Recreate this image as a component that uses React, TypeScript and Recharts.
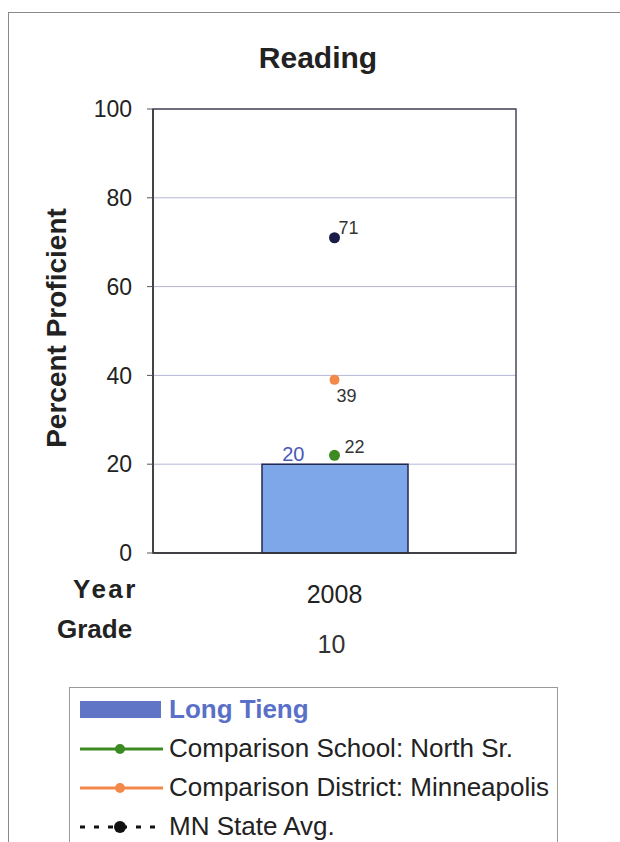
import React from 'react';
import {
  ComposedChart,
  Bar,
  Line,
  XAxis,
  YAxis,
  CartesianGrid,
  Legend,
  LabelList,
  ReferenceArea,
} from 'recharts';

const years = ['2008'];
const grades = ['10'];
const longTieng = [20];
const northSr = [22];
const minneapolis = [39];
const mnState = [71];
const yTicks = [0, 20, 40, 60, 80, 100];

const seriesNames = {
  longTieng: 'Long Tieng',
  northSr: 'Comparison School: North Sr.',
  minneapolis: 'Comparison District: Minneapolis',
  mnState: 'MN State Avg.',
};
const legendOrder = ['longTieng', 'northSr', 'minneapolis', 'mnState'];

const data = years.map((y, i) => ({
  year: y,
  grade: grades[i],
  longTieng: longTieng[i],
  northSr: northSr[i],
  minneapolis: minneapolis[i],
  mnState: mnState[i],
}));

const FONT = '"Liberation Sans", Arial, Helvetica, sans-serif';

const BAR_FILL = '#7ea7ea';
const BAR_STROKE = '#23284f';
const GREEN = '#3b8a22';
const ORANGE = '#f2894b';
const NAVY = '#1a1c48';

const XTick = (props: any) => {
  const { x, y, payload, index } = props;
  return (
    <g>
      <text x={x} y={y + 50} textAnchor="middle" fontFamily={FONT} fontSize={25} fill="#222">
        {payload.value}
      </text>
      <text x={x - 3} y={y + 100} textAnchor="middle" fontFamily={FONT} fontSize={25} fill="#333">
        {grades[index] ?? grades[0]}
      </text>
    </g>
  );
};

const XLabel = (props: any) => {
  const vb = props.viewBox || {};
  const x0 = vb.x ?? 153;
  const y0 = vb.y ?? 553;
  return (
    <g>
      <text x={x0 - 80} y={y0 + 45} fontFamily={FONT} fontSize={26} fontWeight="bold" letterSpacing={2.5} fill="#222">
        Year
      </text>
      <text x={x0 - 96} y={y0 + 85} fontFamily={FONT} fontSize={26} fontWeight="bold" fill="#222">
        Grade
      </text>
    </g>
  );
};

const YLabel = (props: any) => {
  const vb = props.viewBox || {};
  const cy = (vb.y ?? 109) + (vb.height ?? 444) / 2 - 3;
  const cx = 56;
  return (
    <text
      x={cx}
      y={cy}
      transform={`rotate(-90 ${cx} ${cy})`}
      textAnchor="middle"
      dominantBaseline="central"
      fontFamily={FONT}
      fontSize={28}
      fontWeight="bold"
      fill="#222"
    >
      Percent Proficient
    </text>
  );
};

const makePointLabel = (dx: number, dy: number) => (props: any) => {
  const { x, y, value } = props;
  return (
    <text x={x + dx} y={y + dy} fontFamily={FONT} fontSize={18} fill="#333" textAnchor="start">
      {value}
    </text>
  );
};

const BarValueLabel = (props: any) => {
  const { x, y, width, value } = props;
  return (
    <text x={x + width * 0.215} y={y - 3} textAnchor="middle" fontFamily={FONT} fontSize={20} fill="#4a58b8">
      {value}
    </text>
  );
};

const LegendIcon = ({ dataKey }: { dataKey: string }) => {
  if (dataKey === 'longTieng') {
    return (
      <svg width={99} height={39} style={{ display: 'block', flex: 'none' }}>
        <rect x={10} y={11} width={81} height={17} fill="#6075c6" />
      </svg>
    );
  }
  if (dataKey === 'mnState') {
    return (
      <svg width={99} height={39} style={{ display: 'block', flex: 'none' }}>
        <line x1={10} y1={20} x2={93} y2={20} stroke="#111" strokeWidth={3} strokeDasharray="5 9" />
        <circle cx={50} cy={20} r={6} fill="#111" />
      </svg>
    );
  }
  const color = dataKey === 'northSr' ? GREEN : ORANGE;
  return (
    <svg width={99} height={39} style={{ display: 'block', flex: 'none' }}>
      <line x1={10} y1={20} x2={93} y2={20} stroke={color} strokeWidth={3} />
      <circle cx={50} cy={20} r={5} fill={color} />
    </svg>
  );
};

const LegendContent = (props: any) => {
  const payload = [...(props.payload || [])].sort(
    (a: any, b: any) => legendOrder.indexOf(String(a.dataKey)) - legendOrder.indexOf(String(b.dataKey))
  );
  return (
    <div style={{ paddingTop: 2 }}>
      {payload.map((entry: any) => {
        const key = String(entry.dataKey);
        const isBar = key === 'longTieng';
        return (
          <div
            key={key}
            style={{ display: 'flex', alignItems: 'center', height: 39, lineHeight: '39px', whiteSpace: 'nowrap' }}
          >
            <LegendIcon dataKey={key} />
            <span
              style={{
                fontFamily: FONT,
                fontSize: 26,
                fontWeight: isBar ? 'bold' : 'normal',
                color: isBar ? '#5a70c8' : '#222',
              }}
            >
              {entry.value}
            </span>
          </div>
        );
      })}
    </div>
  );
};

export default function App() {
  return (
    <div
      style={{
        position: 'absolute',
        left: 0,
        top: 0,
        width: 620,
        height: 842,
        overflow: 'hidden',
        background: '#fff',
      }}
    >
      <div
        style={{
          position: 'absolute',
          left: 8,
          top: 12,
          width: 700,
          height: 900,
          border: '1.5px solid #8a8a8a',
          boxSizing: 'border-box',
        }}
      />
      <div
        style={{
          position: 'absolute',
          left: 218,
          top: 43,
          width: 200,
          textAlign: 'center',
          fontFamily: FONT,
          fontSize: 30,
          lineHeight: '30px',
          fontWeight: 'bold',
          color: '#222',
        }}
      >
        Reading
      </div>
      <div style={{ position: 'absolute', left: 0, top: 0 }}>
        <ComposedChart
          width={620}
          height={842}
          data={data}
          margin={{ top: 109, right: 104, bottom: 189, left: 0 }}
        >
          <CartesianGrid vertical={false} stroke="#b4b7d4" strokeWidth={1} />
          <ReferenceArea y1={0} y2={100} fill="none" stroke="#4a4a5a" strokeWidth={1.5} ifOverflow="visible" />
          <XAxis
            dataKey="year"
            height={100}
            tickLine={false}
            tickSize={0}
            tickMargin={0}
            axisLine={{ stroke: '#333', strokeWidth: 1.5 }}
            tick={<XTick />}
            interval={0}
            label={<XLabel />}
          />
          <YAxis
            domain={[0, 100]}
            ticks={yTicks}
            width={153}
            tickSize={6}
            tickMargin={15}
            tick={{ fontFamily: FONT, fontSize: 23, fill: '#222' }}
            axisLine={{ stroke: '#333', strokeWidth: 1.5 }}
            tickLine={{ stroke: '#555' }}
            label={<YLabel />}
          />
          <Bar
            dataKey="longTieng"
            name={seriesNames.longTieng}
            fill={BAR_FILL}
            stroke={BAR_STROKE}
            strokeWidth={1.5}
            barSize={146}
            isAnimationActive={false}
          >
            <LabelList dataKey="longTieng" content={<BarValueLabel />} />
          </Bar>
          <Line
            dataKey="northSr"
            name={seriesNames.northSr}
            stroke={GREEN}
            strokeWidth={3}
            dot={{ r: 5.5, fill: GREEN, stroke: GREEN, strokeWidth: 0 }}
            isAnimationActive={false}
          >
            <LabelList dataKey="northSr" content={makePointLabel(10, -2)} />
          </Line>
          <Line
            dataKey="minneapolis"
            name={seriesNames.minneapolis}
            stroke={ORANGE}
            strokeWidth={3}
            dot={{ r: 5, fill: ORANGE, stroke: ORANGE, strokeWidth: 0 }}
            isAnimationActive={false}
          >
            <LabelList dataKey="minneapolis" content={makePointLabel(2, 22)} />
          </Line>
          <Line
            dataKey="mnState"
            name={seriesNames.mnState}
            stroke={NAVY}
            strokeWidth={3}
            strokeDasharray="5 8"
            dot={{ r: 5.5, fill: NAVY, stroke: NAVY, strokeWidth: 0 }}
            isAnimationActive={false}
          >
            <LabelList dataKey="mnState" content={makePointLabel(4, -4)} />
          </Line>
          <Legend
            layout="vertical"
            align="center"
            verticalAlign="middle"
            itemSorter={null as any}
            content={<LegendContent />}
            wrapperStyle={{
              position: 'absolute',
              left: 69,
              top: 687,
              width: 489,
              height: 200,
              border: '1.5px solid #999',
              boxSizing: 'border-box',
              background: '#fff',
              margin: 0,
              padding: 0,
            }}
          />
        </ComposedChart>
      </div>
    </div>
  );
}
